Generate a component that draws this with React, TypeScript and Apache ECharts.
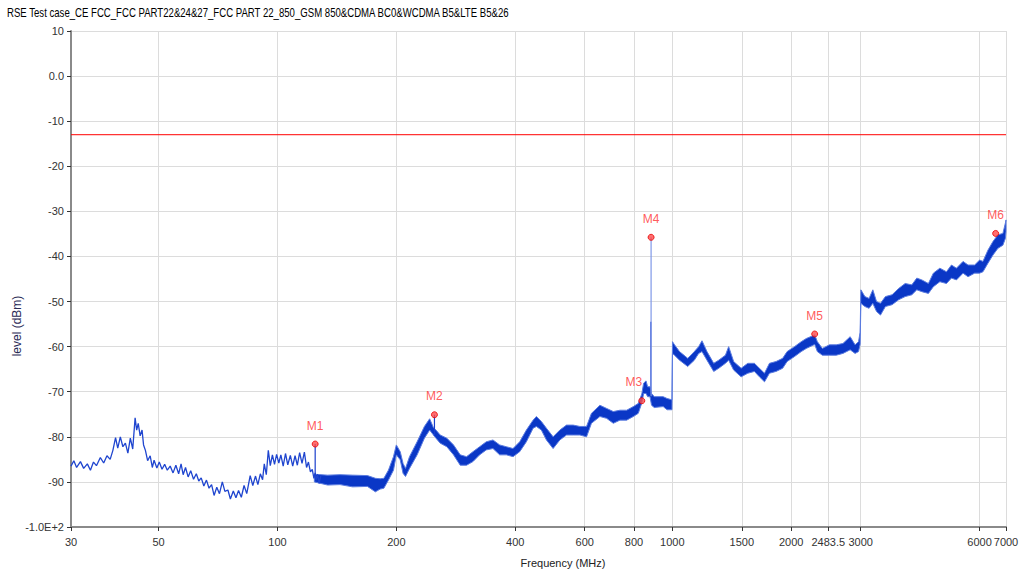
import React, { useEffect, useRef } from 'react';
import * as echarts from 'echarts';

const TITLE = 'RSE Test case_CE FCC_FCC PART22&24&27_FCC PART 22_850_GSM 850&CDMA BC0&WCDMA B5&LTE B5&26';
const X_NAME = 'Frequency (MHz)';
const Y_NAME = 'level (dBm)';

const F_MIN = 30;
const F_MAX = 7000;
const Y_MIN = -100;
const Y_MAX = 10;
const Y_STEP = 10;
const LIMIT_DBM = -13;

const TICK_FREQS = [30, 50, 100, 200, 400, 600, 800, 1000, 1500, 2000, 2483.5, 3000, 6000, 7000];
const TICK_LABELS = ['30', '50', '100', '200', '400', '600', '800', '1000', '1500', '2000', '2483.5', '3000', '6000', '7000'];

// Low-frequency part of the sweep: sparse trace (frequency MHz, level dBm)
const SPARSE_TRACE: [number, number][] = [
  [30, -86.5], [30.5, -85.3], [31, -86.8], [31.7, -85.5], [32.3, -87], [33, -86], [33.6, -87.4], [34.2, -85.6],
  [34.8, -86.4], [35.6, -84.6], [36.3, -85.8], [37, -84.2], [37.7, -85], [38.3, -83], [38.9, -80.2], [39.4, -82.5],
  [40, -80], [40.6, -82.2], [41.2, -81.4], [41.8, -83.6], [42.4, -80.3], [43, -82.7], [43.6, -75.8], [44, -78.5],
  [44.4, -77], [44.9, -79.8], [45.4, -78.5], [45.8, -81.8], [46.3, -83], [46.9, -85.3], [47.6, -84.2], [48.2, -86.8],
  [48.7, -85.2], [49.5, -86.9], [50.2, -85.6], [51, -87.2], [51.8, -86.1], [52.6, -87.4], [53.5, -86.5], [54.4, -88],
  [55.3, -86.3], [56.2, -88.2], [57, -86], [57.7, -88.4], [58.5, -86.8], [59.4, -88.9], [60.3, -87.5], [61.3, -89.4],
  [62.3, -88.2], [63.2, -89.8], [64.1, -89.1], [65.1, -90.9], [66.1, -89.6], [67.1, -91.4], [68.1, -90.6], [69.1, -93],
  [70.2, -91.2], [71.3, -92.6], [72.5, -90], [73.6, -92.1], [74.9, -91.8], [76, -93.8], [77.3, -92], [78.5, -93.5],
  [79.7, -91.9], [81, -93.4], [82.3, -90.8], [83.6, -92.6], [85.3, -88.6], [86.6, -90.8], [88, -88.7], [89.2, -90.6],
  [90.5, -88.2], [91.7, -89.5], [92.6, -86], [93.7, -88.4], [94.8, -83], [95.9, -86.4], [97.1, -84], [98.3, -86.1],
  [99.5, -83.9], [100.8, -85.8], [102, -84], [103.4, -86.5], [104.8, -83.7], [106.2, -86.2], [107.8, -84.1], [109.3, -86.5],
  [110.8, -84.2], [112.3, -86.3], [113.8, -83.5], [115.4, -85.9], [117, -83.4], [118.5, -86.8], [119.8, -85.6], [121.2, -87.8],
  [122.5, -87.2], [123.7, -89.2], [124.6, -88], [125.2, -89.6], [126.3, -88.3], [127.5, -90.3], [128.8, -88.6],
];

// Dense part of the sweep: noise band (frequency MHz, lower dBm, upper dBm)
const BAND_TRACE: [number, number, number][] = [
  [124, -90.0, -88.3], [134, -90.7, -88.5], [144, -90.6, -88.4], [155, -91.1, -88.5], [169, -91.0, -88.6],
  [177, -92.2, -89.2], [182, -91.6, -89.3], [186, -91.4, -89.2], [191, -89.6, -87.4], [196.7, -87.4, -84.4],
  [200, -84.0, -81.8], [204.6, -85.1, -83.3], [208, -88.1, -85.9], [211, -88.8, -87.0], [216, -87.0, -84.4],
  [225.8, -84.0, -81.1], [235.6, -80.3, -77.7], [242.9, -78.5, -76.0], [248.4, -79.6, -78.0], [252, -80.3, -78.5],
  [258.3, -81.4, -79.6], [268.5, -82.2, -80.3], [279.2, -84.0, -81.8], [290.3, -86.3, -84.0], [301.2, -86.3, -84.4],
  [312.7, -85.5, -83.3], [325.1, -84.0, -82.2], [338, -82.9, -81.1], [351.4, -82.6, -80.7], [365.4, -84.0, -81.8],
  [379.9, -84.0, -82.2], [395, -84.4, -82.6], [410.7, -83.3, -81.1], [427, -81.1, -78.5], [444, -78.1, -76.3],
  [452.7, -77.7, -75.5], [466, -78.5, -76.6], [480, -80.7, -78.1], [499, -82.6, -80.0], [519, -80.7, -78.5],
  [539.6, -79.6, -77.4], [561, -79.6, -77.4], [583.4, -79.6, -77.7], [606.5, -80.0, -77.7], [624, -77.0, -74.8],
  [655.6, -75.5, -73.0], [681.7, -75.9, -73.7], [708.8, -77.0, -74.4], [737, -76.3, -74.1], [766.3, -76.3, -74.1],
  [796.7, -75.5, -73.3], [820, -74.8, -72.6], [837, -72.5, -70.5], [846, -70.4, -68.1], [858, -70.4, -67.6],
  [866, -71.1, -68.9], [878, -71.1, -68.9], [886, -73.0, -70.4], [900, -73.5, -71.1], [948, -73.3, -71.1],
  [970, -74.0, -71.5], [998, -74.0, -71.8], [1001, -61.5, -58.9], [1013, -61.9, -59.6], [1043, -63.0, -61.1],
  [1094, -64.4, -62.6], [1137, -63.0, -61.1], [1166, -61.5, -60.0], [1189, -61.1, -58.7], [1224, -63.0, -61.1],
  [1273, -65.5, -63.7], [1311, -64.8, -63.0], [1363, -63.7, -61.9], [1389, -63.0, -60.0], [1430, -65.2, -63.3],
  [1494, -66.7, -64.8], [1553, -65.9, -63.7], [1614, -65.5, -63.7], [1662, -66.7, -64.8], [1712, -67.8, -65.9],
  [1762, -65.9, -63.7], [1831, -65.5, -63.3], [1903, -64.8, -62.6], [1953, -63.3, -61.1], [2039, -62.2, -60.0],
  [2121, -61.1, -58.9], [2184, -60.4, -58.2], [2294, -59.5, -57.4], [2330, -61.1, -58.9], [2399, -61.9, -60.4],
  [2500, -61.9, -59.6], [2601, -61.9, -59.6], [2705, -61.5, -59.3], [2821, -60.7, -57.8], [2903, -61.5, -59.6],
  [2962, -61.1, -58.9], [2990, -59.5, -56.8], [3003, -50.4, -47.4], [3074, -51.1, -48.9], [3150, -51.5, -49.3],
  [3220, -50.4, -47.4], [3290, -52.2, -50.0], [3367, -53.0, -50.4], [3465, -51.1, -48.9], [3602, -50.7, -48.5],
  [3743, -49.6, -47.1], [3888, -48.9, -46.0], [4042, -48.5, -46.3], [4161, -47.4, -44.8], [4284, -47.8, -45.2],
  [4452, -48.2, -46.0], [4583, -46.7, -43.7], [4760, -45.6, -42.6], [4947, -46.0, -43.4], [5093, -44.8, -41.9],
  [5243, -45.2, -42.6], [5449, -43.7, -41.1], [5610, -44.5, -41.9], [5830, -43.7, -41.9], [6002, -43.7, -40.8],
  [6120, -43.4, -41.1], [6300, -41.5, -38.6], [6486, -39.7, -36.7], [6677, -38.2, -35.2], [6874, -37.5, -34.9],
  [6975, -36.0, -32.6], [7000, -34.5, -31.9],
];

// Narrow spurs (frequency MHz, from dBm, to dBm)
const SPIKES: [number, number, number][] = [
  [124.6, -88.6, -81.6],
  [249.8, -79.8, -75.1],
  [882.5, -70.5, -54.5],
  [883.6, -71.0, -35.75],
];

const MARKER_NAMES = ['M1', 'M2', 'M3', 'M4', 'M5', 'M6'];
const MARKER_FREQS = [124.6, 249.8, 837, 883.6, 2294, 6590];
const MARKER_LEVELS = [-81.6, -75.1, -72.0, -35.75, -57.2, -34.9];

const FONT = 'Liberation Sans';
const lg = (f: number) => Math.log10(f);

export default function App() {
  const ref = useRef<HTMLDivElement>(null);

  useEffect(() => {
    if (!ref.current) return;
    const chart = echarts.init(ref.current, undefined, { renderer: 'svg' });
    const tickLogs = TICK_FREQS.map(lg);
    const labelFor = (v: number) => {
      const i = tickLogs.findIndex((t) => Math.abs(t - v) < 1e-6);
      return i >= 0 ? TICK_LABELS[i] : '';
    };

    const spikeSeries = SPIKES.map((s) => ({
      type: 'line',
      data: [[lg(s[0]), s[1]], [lg(s[0]), s[2]]],
      showSymbol: false,
      symbol: 'none',
      lineStyle: { color: s[2] - s[1] > 20 ? '#7f98e8' : '#1a3fcc', width: 1.2 },
      z: 4,
      silent: true,
    }));

    chart.setOption({
      animation: false,
      grid: { left: 71, right: 16, top: 31, bottom: 48, containLabel: false },
      xAxis: {
        type: 'value',
        min: lg(F_MIN),
        max: lg(F_MAX),
        axisLine: { show: true, onZero: false, lineStyle: { color: '#8a8a8a', width: 2 } },
        axisTick: { show: true, length: 4, customValues: tickLogs, lineStyle: { color: '#333' } },
        axisLabel: {
          customValues: tickLogs,
          formatter: (v: number) => labelFor(v),
          color: '#333',
          fontSize: 11,
          fontFamily: FONT,
          margin: 9,
        },
        splitLine: { show: true, lineStyle: { color: '#dcdcdc', width: 1 } },
      },
      yAxis: {
        type: 'value',
        min: Y_MIN,
        max: Y_MAX,
        interval: Y_STEP,
        axisLine: { show: true, onZero: false, lineStyle: { color: '#8a8a8a', width: 2 } },
        axisTick: { show: true, length: 4, lineStyle: { color: '#333' } },
        axisLabel: {
          color: '#333',
          fontSize: 11,
          fontFamily: FONT,
          margin: 7,
          formatter: (v: number) => (v === 0 ? '0.0' : v === -100 ? '-1.0E+2' : String(v)),
        },
        splitLine: { show: true, lineStyle: { color: '#dcdcdc', width: 1 } },
      },
      graphic: [
        {
          type: 'text',
          x: 7,
          y: 13,
          scaleX: 0.8,
          style: {
            text: TITLE,
            fill: '#000',
            font: `12px ${FONT}`,
            textAlign: 'left',
            textVerticalAlign: 'middle',
          },
        },
        {
          type: 'text',
          x: 17,
          y: 326,
          rotation: Math.PI / 2,
          style: {
            text: Y_NAME,
            fill: '#2a2a55',
            font: `12px ${FONT}`,
            textAlign: 'center',
            textVerticalAlign: 'middle',
          },
        },
        {
          type: 'text',
          x: 563,
          y: 563,
          style: {
            text: X_NAME,
            fill: '#222',
            font: `11px ${FONT}`,
            textAlign: 'center',
            textVerticalAlign: 'middle',
          },
        },
      ],
      series: [
        {
          type: 'line',
          data: [[lg(F_MIN), LIMIT_DBM], [lg(F_MAX), LIMIT_DBM]],
          symbol: 'none',
          lineStyle: { color: '#ff0000', width: 1 },
          z: 2,
          silent: true,
        },
        {
          type: 'line',
          data: SPARSE_TRACE.map((p) => [lg(p[0]), p[1]]),
          symbol: 'none',
          showSymbol: false,
          lineStyle: { color: '#1f45cf', width: 1.3 },
          z: 3,
          silent: true,
        },
        {
          type: 'custom',
          data: [[lg(BAND_TRACE[0][0]), BAND_TRACE[0][1]]],
          renderItem: (_params: any, api: any) => {
            const top = BAND_TRACE.map((b) => api.coord([lg(b[0]), b[2]]));
            const bot = BAND_TRACE.map((b) => api.coord([lg(b[0]), b[1]])).reverse();
            return {
              type: 'polygon',
              shape: { points: top.concat(bot) },
              style: { fill: '#0a37c6', stroke: '#5a7be0', lineWidth: 1 },
            };
          },
          z: 3,
          silent: true,
        },
        ...spikeSeries,
        {
          type: 'scatter',
          data: MARKER_NAMES.map((n, i) => ({
            name: n,
            value: [lg(MARKER_FREQS[i]), MARKER_LEVELS[i]],
            label: n === 'M3' ? { offset: [-8, 0] } : undefined,
          })),
          symbol: 'circle',
          symbolSize: 6,
          itemStyle: { color: '#ff4a4a', borderColor: '#e60000', borderWidth: 1 },
          label: {
            show: true,
            position: 'top',
            distance: 9,
            formatter: (p: any) => p.name,
            color: '#ff3030',
            fontSize: 12,
            fontFamily: FONT,
          },
          z: 5,
          silent: true,
        },
      ],
    });
    return () => chart.dispose();
  }, []);

  return <div ref={ref} style={{ position: 'fixed', left: 0, top: 0, width: 1022, height: 575, background: '#fff' }} />;
}
